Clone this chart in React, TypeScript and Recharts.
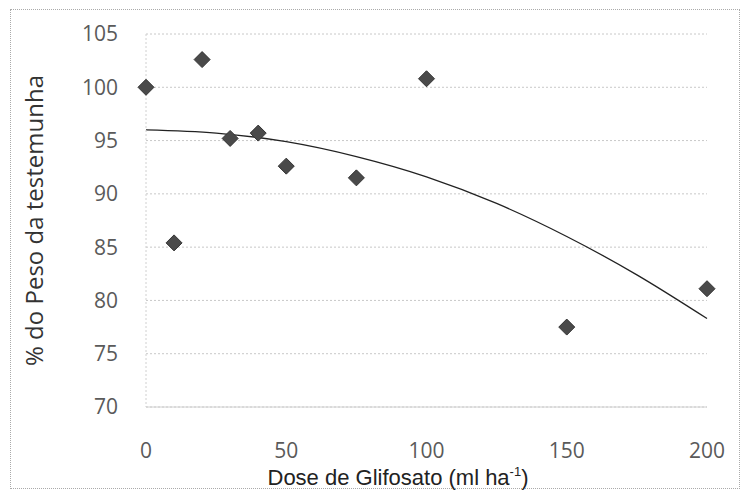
import React from "react";
import {
  CartesianGrid,
  ComposedChart,
  Line,
  Scatter,
  XAxis,
  YAxis,
} from "recharts";

// observed points (dose in ml/ha, % of control weight)
const doses = [0, 10, 20, 30, 40, 50, 75, 100, 150, 200];
const pesoPct = [100, 85.4, 102.6, 95.2, 95.7, 92.6, 91.5, 100.8, 77.5, 81.1];

// trend curve
const trendDoses = [0, 25, 50, 75, 100, 125, 150, 175, 200];
const trendPct = [96.0, 95.7, 94.9, 93.5, 91.6, 89.1, 86.0, 82.4, 78.3];

const xTicks = [0, 50, 100, 150, 200];
const yTicks = [70, 75, 80, 85, 90, 95, 100, 105];

const points = doses.map((d, i) => ({ dose: d, peso: pesoPct[i] }));
const trend = trendDoses.map((d, i) => ({ dose: d, fit: trendPct[i] }));

const Diamond = (props: any) => {
  const { cx, cy } = props;
  if (cx == null || cy == null) return null;
  const r = 8;
  return (
    <path
      d={`M${cx},${cy - r} L${cx + r},${cy} L${cx},${cy + r} L${cx - r},${cy} Z`}
      fill="#4a4a4a"
      stroke="#333"
      strokeWidth={1}
    />
  );
};

const XTitle = () => (
  <text
    x={398}
    y={485}
    textAnchor="middle"
    fontFamily="Liberation Sans, Arial, sans-serif"
    fontSize={22}
    fill="#222"
  >
    Dose de Glifosato (ml ha
    <tspan fontSize={13} dy={-9}>-1</tspan>
    <tspan dy={9}>)</tspan>
  </text>
);

export default function App() {
  return (
    <div
      style={{
        position: "absolute",
        left: 0,
        top: 0,
        width: 747,
        height: 497,
        background: "#fff",
      }}
    >
      <div
        style={{
          position: "absolute",
          left: 10,
          top: 9,
          width: 730,
          height: 480,
          border: "1px dotted #aaa",
          boxSizing: "border-box",
        }}
      />
      <ComposedChart
        width={747}
        height={497}
        margin={{ top: 34, right: 40, bottom: 30, left: 0 }}
        style={{ position: "absolute", left: 0, top: 0 }}
      >
        <CartesianGrid
          vertical={false}
          stroke="#c8c8c8"
          strokeDasharray="2 2"
        />
        <XAxis
          type="number"
          dataKey="dose"
          domain={[0, 200]}
          ticks={xTicks}
          height={60}
          axisLine={{ stroke: "#d0d0d0" }}
          tickLine={false}
          tickMargin={30}
          tick={{ fill: "#5a5a5a", fontSize: 21, fontFamily: "Open Sans" }}
          label={{ content: <XTitle /> }}
        />
        <YAxis
          type="number"
          domain={[70, 105]}
          ticks={yTicks}
          width={146}
          axisLine={{ stroke: "#d0d0d0", strokeDasharray: "2 2" }}
          tickLine={false}
          tickMargin={22}
          tick={{ fill: "#5a5a5a", fontSize: 21, fontFamily: "Open Sans" }}
          label={{
            value: "% do Peso da testemunha",
            angle: -90,
            position: "insideLeft",
            offset: 34,
            style: {
              textAnchor: "middle",
              fill: "#333",
              fontSize: 24,
              fontFamily: "Open Sans",
            },
          }}
        />
        <Line
          data={trend}
          dataKey="fit"
          type="monotone"
          stroke="#222"
          strokeWidth={1.3}
          dot={false}
          activeDot={false}
          isAnimationActive={false}
        />
        <Scatter
          data={points}
          dataKey="peso"
          shape={<Diamond />}
          isAnimationActive={false}
        />
      </ComposedChart>
    </div>
  );
}
